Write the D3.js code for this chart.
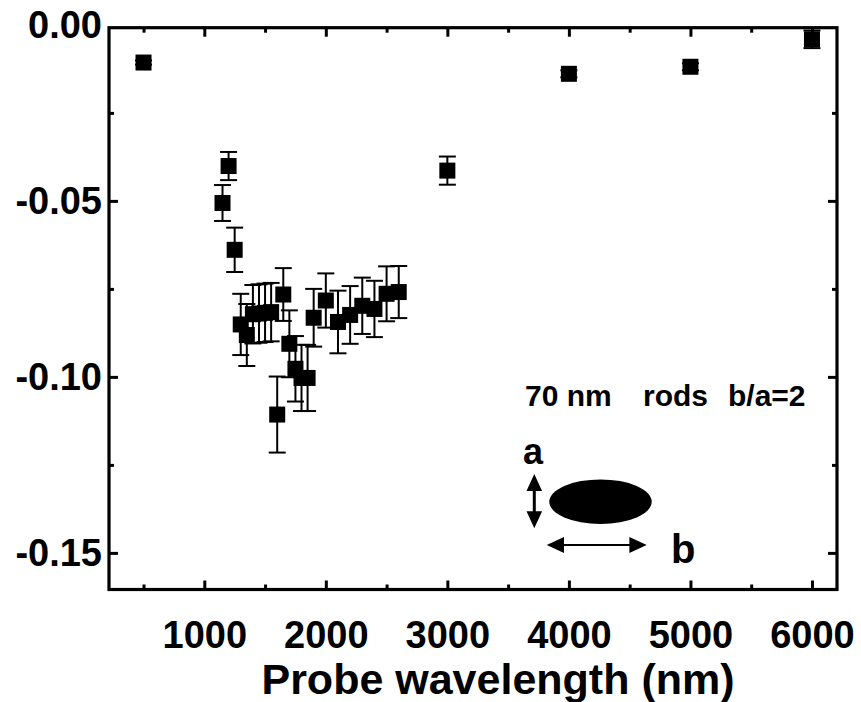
<!DOCTYPE html>
<html>
<head>
<meta charset="utf-8">
<script src="https://d3js.org/d3.v7.min.js"></script>
<style>
  html, body { margin: 0; padding: 0; background: #fff; }
  svg { display: block; }
  text { font-family: "Liberation Sans", Arial, sans-serif; font-weight: bold; fill: #000; }
</style>
</head>
<body>
<svg id="chart" width="861" height="702"></svg>
<script>
// ---- data ----
const wavelengths = [500, 1150, 1200, 1250, 1300, 1350, 1400, 1450, 1500, 1550, 1600, 1650, 1700, 1750, 1800, 1850, 1900, 2000, 2100, 2200, 2300, 2400, 2500, 2600, 3000, 4000, 5000, 6000];
const values = [-0.0107, -0.0506, -0.0401, -0.0639, -0.0851, -0.0881, -0.0822, -0.0820, -0.0818, -0.0816, -0.1107, -0.0766, -0.0906, -0.0977, -0.1003, -0.1003, -0.0832, -0.0783, -0.0844, -0.0824, -0.0798, -0.0807, -0.0764, -0.0759, -0.0414, -0.0139, -0.0119, -0.0041];
const errors = [0.0006, 0.0051, 0.0040, 0.0063, 0.0087, 0.0088, 0.0083, 0.0083, 0.0083, 0.0083, 0.0108, 0.0075, 0.0095, 0.0093, 0.0094, 0.0094, 0.0082, 0.0077, 0.0089, 0.0082, 0.0080, 0.0080, 0.0078, 0.0074, 0.0040, 0.0010, 0.0010, 0.0025];
const xMajorTicks = [1000, 2000, 3000, 4000, 5000, 6000];
const xMinorTicks = [500, 1500, 2500, 3500, 4500, 5500];
const yMajorTicks = [0, -0.05, -0.10, -0.15];
const yMinorTicks = [-0.025, -0.075, -0.125];
const yTickLabels = ["0.00", "-0.05", "-0.10", "-0.15"];
const xTitle = "Probe wavelength (nm)";
const annotation = ["70 nm", "rods", "b/a=2"];

// ---- layout ----
const L = 109, R = 837, T = 27.7, B = 589.5;
const svg = d3.select("#chart");
const x = d3.scaleLinear().domain([216, 6206]).range([L, R]);
const y = d3.scaleLinear().domain([-0.1604, -0.0008]).range([B, T]);

function styleAxis(g, width) {
  g.select(".domain").remove();
  g.selectAll(".tick line").attr("stroke", "#000").attr("stroke-width", width);
}
function styleText(g) {
  g.selectAll("text").style("font-size", "38px").attr("font-family", "Liberation Sans, Arial, sans-serif")
    .attr("font-weight", "bold").attr("fill", "#000");
}

// bottom
svg.append("g").attr("transform", `translate(0,${B})`)
  .call(d3.axisBottom(x).tickValues(xMajorTicks).tickSize(-9).tickPadding(32).tickFormat(d3.format("d")))
  .call(g => styleAxis(g, 3))
  .call(styleText);
svg.append("g").attr("transform", `translate(0,${B})`)
  .call(d3.axisBottom(x).tickValues(xMinorTicks).tickSize(-5).tickFormat(""))
  .call(g => styleAxis(g, 3));
// top
svg.append("g").attr("transform", `translate(0,${T})`)
  .call(d3.axisTop(x).tickValues(xMajorTicks).tickSize(-9).tickFormat(""))
  .call(g => styleAxis(g, 3));
svg.append("g").attr("transform", `translate(0,${T})`)
  .call(d3.axisTop(x).tickValues(xMinorTicks).tickSize(-5).tickFormat(""))
  .call(g => styleAxis(g, 3));
// left
svg.append("g").attr("transform", `translate(${L},0)`)
  .call(d3.axisLeft(y).tickValues(yMajorTicks).tickSize(-9).tickPadding(7).tickFormat((d, i) => yTickLabels[i]))
  .call(g => styleAxis(g, 3))
  .call(styleText)
  .call(g => g.selectAll(".tick").filter(d => d > y.domain()[1]).select("line").remove());
svg.append("g").attr("transform", `translate(${L},0)`)
  .call(d3.axisLeft(y).tickValues(yMinorTicks).tickSize(-5).tickFormat(""))
  .call(g => styleAxis(g, 3));
// right
svg.append("g").attr("transform", `translate(${R},0)`)
  .call(d3.axisRight(y).tickValues(yMajorTicks.filter(d => d <= y.domain()[1])).tickSize(-9).tickFormat(""))
  .call(g => styleAxis(g, 3));
svg.append("g").attr("transform", `translate(${R},0)`)
  .call(d3.axisRight(y).tickValues(yMinorTicks).tickSize(-5).tickFormat(""))
  .call(g => styleAxis(g, 3));

// frame
svg.append("rect").attr("x", L).attr("y", T).attr("width", R - L).attr("height", B - T)
  .attr("fill", "none").attr("stroke", "#000").attr("stroke-width", 3.2);

// data
const data = wavelengths.map((w, i) => ({ w, v: values[i], e: errors[i] }));
const capW = 8.5;
const eb = svg.append("g").attr("stroke", "#000").attr("stroke-width", 2).attr("fill", "none");
data.forEach(d => {
  const cx = x(d.w), y1 = y(d.v + d.e), y2 = y(d.v - d.e);
  eb.append("line").attr("x1", cx).attr("x2", cx).attr("y1", y1).attr("y2", y2);
  eb.append("line").attr("x1", cx - capW).attr("x2", cx + capW).attr("y1", y1).attr("y2", y1);
  eb.append("line").attr("x1", cx - capW).attr("x2", cx + capW).attr("y1", y2).attr("y2", y2);
});
const sq = 16;
svg.append("g").selectAll("rect").data(data).join("rect")
  .attr("x", d => x(d.w) - sq / 2).attr("y", d => y(d.v) - sq / 2)
  .attr("width", sq).attr("height", sq).attr("fill", "#000");

// annotation
const ann = svg.append("g");
ann.append("text").attr("x", 525).attr("y", 406).style("font-size", "30px").text(annotation[0]);
ann.append("text").attr("x", 643).attr("y", 406).style("font-size", "30px").text(annotation[1]);
ann.append("text").attr("x", 728).attr("y", 406).style("font-size", "30px").text(annotation[2]);
ann.append("text").attr("x", 523).attr("y", 464).style("font-size", "36px").text("a");
ann.append("text").attr("x", 671).attr("y", 563).style("font-size", "40px").text("b");
ann.append("ellipse").attr("cx", 600.5).attr("cy", 501.7).attr("rx", 51.2).attr("ry", 22.3).attr("fill", "#000");
// vertical double arrow
ann.append("line").attr("x1", 534.3).attr("x2", 534.3).attr("y1", 486).attr("y2", 516).attr("stroke", "#000").attr("stroke-width", 3);
ann.append("path").attr("d", "M534.3,474 L526.5,491 L542.1,491 Z").attr("fill", "#000");
ann.append("path").attr("d", "M534.3,528.3 L526.5,511.3 L542.1,511.3 Z").attr("fill", "#000");
// horizontal double arrow
ann.append("line").attr("x1", 558).attr("x2", 636).attr("y1", 545).attr("y2", 545).attr("stroke", "#000").attr("stroke-width", 2);
ann.append("path").attr("d", "M546.7,545 L564,537 L564,553 Z").attr("fill", "#000");
ann.append("path").attr("d", "M646.7,545 L629.4,537 L629.4,553 Z").attr("fill", "#000");

// axis title
svg.append("text").attr("x", 498).attr("y", 694).attr("text-anchor", "middle")
  .style("font-size", "43px").text(xTitle);
</script>
</body>
</html>
